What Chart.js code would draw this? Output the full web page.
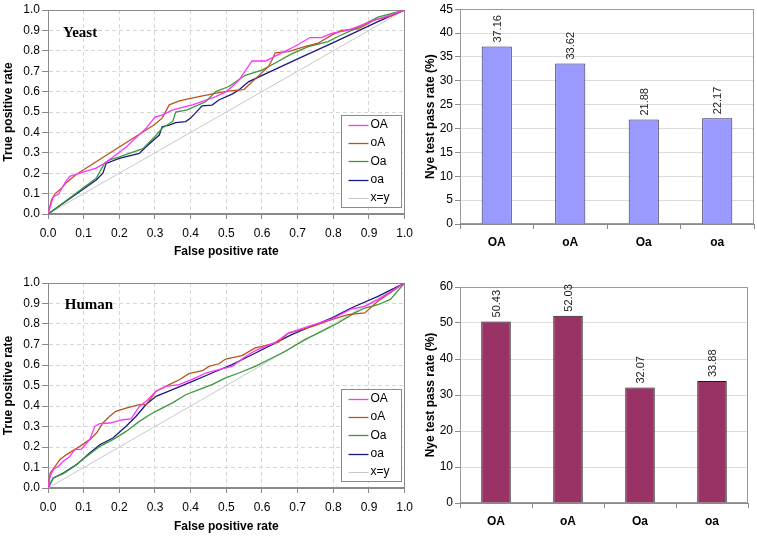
<!DOCTYPE html>
<html><head><meta charset="utf-8">
<script src="https://cdn.jsdelivr.net/npm/chart.js@4/dist/chart.umd.min.js"></script>
<style>
html,body{margin:0;padding:0;background:#fff;}
body{width:757px;height:537px;position:relative;overflow:hidden;}
.p{position:absolute;}
</style></head><body>
<div class="p" style="left:0;top:0;width:420px;height:262px"><canvas id="c1"></canvas></div>
<div class="p" style="left:0;top:270px;width:420px;height:267px"><canvas id="c2"></canvas></div>
<div class="p" style="left:380px;top:0;width:377px;height:270px"><canvas id="c3"></canvas></div>
<div class="p" style="left:380px;top:270px;width:377px;height:267px"><canvas id="c4"></canvas></div>
<script>
// ---------------- DATA ----------------
const seriesNames = ['OA', 'oA', 'Oa', 'oa'];
const diagonal = [[0, 0], [1, 1]];

// Yeast ROC curves [FPR, TPR]
const yeastOA = [[0,0],[0.015,0.085],[0.03,0.098],[0.038,0.125],[0.05,0.16],[0.061,0.185],[0.098,0.205],[0.135,0.225],[0.16,0.25],[0.22,0.33],[0.275,0.42],[0.30,0.475],[0.32,0.485],[0.35,0.51],[0.405,0.535],[0.47,0.575],[0.50,0.60],[0.535,0.655],[0.572,0.75],[0.61,0.75],[0.655,0.79],[0.69,0.82],[0.735,0.865],[0.767,0.865],[0.795,0.885],[0.84,0.90],[0.87,0.92],[0.915,0.95],[0.96,0.975],[1,1]];
const yeastoA = [[0,0],[0.01,0.07],[0.02,0.10],[0.038,0.126],[0.052,0.155],[0.08,0.195],[0.30,0.44],[0.32,0.47],[0.34,0.535],[0.368,0.555],[0.423,0.575],[0.479,0.595],[0.516,0.605],[0.549,0.61],[0.563,0.632],[0.59,0.677],[0.618,0.722],[0.632,0.768],[0.637,0.79],[0.674,0.796],[0.72,0.82],[0.757,0.837],[0.795,0.877],[0.823,0.90],[0.87,0.907],[0.915,0.95],[0.96,0.97],[1,1]];
const yeastOa = [[0,0],[0.135,0.175],[0.159,0.25],[0.173,0.265],[0.2,0.28],[0.266,0.32],[0.30,0.38],[0.32,0.42],[0.35,0.455],[0.358,0.50],[0.39,0.51],[0.442,0.55],[0.47,0.60],[0.507,0.625],[0.553,0.68],[0.60,0.705],[0.637,0.74],[0.683,0.785],[0.73,0.82],[0.785,0.845],[0.813,0.87],[0.87,0.915],[0.925,0.965],[1,1]];
const yeastoa = [[0,0],[0.135,0.167],[0.154,0.20],[0.163,0.248],[0.2,0.273],[0.256,0.297],[0.275,0.33],[0.312,0.387],[0.32,0.428],[0.34,0.436],[0.358,0.448],[0.386,0.453],[0.40,0.47],[0.432,0.53],[0.46,0.534],[0.479,0.559],[0.516,0.588],[0.535,0.608],[0.563,0.649],[0.70,0.76],[0.80,0.84],[0.925,0.943],[1,1]];

// Human ROC curves [FPR, TPR]
const humanOA = [[0,0],[0.006,0.057],[0.015,0.09],[0.029,0.106],[0.043,0.13],[0.061,0.154],[0.075,0.187],[0.094,0.19],[0.117,0.236],[0.131,0.30],[0.145,0.314],[0.173,0.317],[0.21,0.333],[0.233,0.337],[0.256,0.398],[0.275,0.423],[0.303,0.472],[0.33,0.496],[0.368,0.504],[0.414,0.537],[0.442,0.561],[0.479,0.577],[0.516,0.593],[0.553,0.64],[0.581,0.67],[0.637,0.71],[0.674,0.756],[0.73,0.789],[0.795,0.824],[0.85,0.873],[0.888,0.886],[0.925,0.919],[1,1]];
const humanoA = [[0,0],[0.006,0.073],[0.02,0.106],[0.033,0.138],[0.052,0.163],[0.089,0.203],[0.117,0.236],[0.136,0.268],[0.154,0.317],[0.173,0.35],[0.19,0.374],[0.219,0.39],[0.256,0.407],[0.275,0.407],[0.303,0.472],[0.34,0.504],[0.368,0.528],[0.395,0.558],[0.433,0.572],[0.451,0.593],[0.479,0.606],[0.498,0.629],[0.544,0.646],[0.581,0.683],[0.609,0.694],[0.646,0.711],[0.674,0.756],[0.711,0.772],[0.748,0.792],[0.795,0.821],[0.841,0.846],[0.888,0.854],[0.925,0.911],[1,1]];
const humanOa = [[0,0],[0.015,0.049],[0.043,0.07],[0.071,0.102],[0.108,0.154],[0.145,0.203],[0.182,0.236],[0.219,0.276],[0.256,0.325],[0.293,0.366],[0.312,0.382],[0.349,0.415],[0.386,0.455],[0.423,0.48],[0.46,0.504],[0.498,0.537],[0.535,0.561],[0.581,0.593],[0.628,0.634],[0.665,0.667],[0.72,0.724],[0.767,0.764],[0.813,0.805],[0.86,0.854],[0.888,0.878],[0.925,0.894],[0.96,0.92],[1,1]];
const humanoa = [[0,0],[0.015,0.049],[0.043,0.073],[0.08,0.114],[0.117,0.171],[0.145,0.211],[0.182,0.244],[0.219,0.301],[0.247,0.35],[0.275,0.407],[0.303,0.447],[0.349,0.48],[0.405,0.52],[0.46,0.561],[0.516,0.602],[0.572,0.65],[0.628,0.699],[0.683,0.748],[0.739,0.789],[0.795,0.829],[0.85,0.878],[0.925,0.935],[1,1]];

// Nye test pass rate (%)
const yeastPass = [37.16, 33.62, 21.88, 22.17];
const humanPass = [50.43, 52.03, 32.07, 33.88];

// ---------------- STYLE ----------------
const FONT = '"Liberation Sans", Arial, sans-serif';
Chart.defaults.font.family = FONT;
Chart.defaults.font.size = 12;
Chart.defaults.color = '#000';
const curveColors = ['#FF33FF', '#B9541F', '#3A9A3A', '#1A1A80'];
const diagColor = '#C8C8C8';

const frame = {
  id: 'frame',
  beforeDatasetsDraw(chart, args, opts) {
    const a = chart.chartArea, ctx = chart.ctx;
    ctx.save();
    ctx.strokeStyle = opts.color || '#888';
    ctx.lineWidth = 1;
    ctx.strokeRect(Math.round(a.left) + 0.5, Math.round(a.top) + 0.5, Math.round(a.right - a.left) - 1, Math.round(a.bottom - a.top) - 1);
    ctx.restore();
  }
};

const rocLegend = {
  id: 'rocLegend',
  afterDatasetsDraw(chart) {
    const a = chart.chartArea, ctx = chart.ctx, ds = chart.data.datasets;
    const w = 60, rowH = 18.4, h = ds.length * rowH;
    const x0 = Math.round(a.right - 4 - w) + 0.5, y0 = Math.round(a.bottom - 7 - h) + 0.5;
    ctx.save();
    ctx.fillStyle = '#fff';
    ctx.fillRect(x0, y0, w, h);
    ctx.strokeStyle = '#8a8a8a';
    ctx.lineWidth = 1;
    ctx.strokeRect(x0, y0, w, h);
    ctx.font = '12px ' + FONT;
    ctx.textBaseline = 'middle';
    ctx.textAlign = 'left';
    ds.forEach((d, i) => {
      const y = y0 + 9 + i * rowH;
      ctx.strokeStyle = d.borderColor;
      ctx.lineWidth = d.borderWidth;
      ctx.beginPath();
      ctx.moveTo(x0 + 7, Math.round(y) + 0.5);
      ctx.lineTo(x0 + 27, Math.round(y) + 0.5);
      ctx.stroke();
      ctx.fillStyle = '#000';
      ctx.fillText(d.label, x0 + 29, y);
    });
    ctx.restore();
  }
};

const panelTitle = {
  id: 'panelTitle',
  afterDraw(chart, args, opts) {
    const ctx = chart.ctx;
    const x = chart.scales.x.getPixelForValue(opts.fx);
    const y = chart.scales.y.getPixelForValue(opts.fy);
    ctx.save();
    ctx.font = 'bold 15px "Liberation Serif", "Times New Roman", serif';
    ctx.fillStyle = '#000';
    ctx.textAlign = 'left';
    ctx.textBaseline = 'middle';
    ctx.fillText(opts.text, x, y);
    ctx.restore();
  }
};

const barLabels = {
  id: 'barLabels',
  afterDatasetsDraw(chart) {
    const ctx = chart.ctx, meta = chart.getDatasetMeta(0), vals = chart.data.datasets[0].data;
    ctx.save();
    ctx.font = '11px ' + FONT;
    ctx.fillStyle = '#222';
    meta.data.forEach((bar, i) => {
      ctx.save();
      ctx.translate(bar.x + 1, bar.y - 4);
      ctx.rotate(-Math.PI / 2);
      ctx.textAlign = 'left';
      ctx.textBaseline = 'middle';
      ctx.fillText(vals[i].toFixed(2), 0, 0);
      ctx.restore();
    });
    ctx.restore();
  }
};

function toXY(arr) { return arr.map(p => ({x: p[0], y: p[1]})); }

function makeRoc(id, name, curves, pad, xH, titleXY) {
  const datasets = curves.map((c, i) => ({
    label: seriesNames[i], data: toXY(c), borderColor: curveColors[i], borderWidth: 1.3
  }));
  datasets.push({label: 'x=y', data: toXY(diagonal), borderColor: diagColor, borderWidth: 1});
  new Chart(document.getElementById(id), {
    type: 'line',
    data: {datasets},
    options: {
      responsive: true, maintainAspectRatio: false, animation: false, devicePixelRatio: 1,
      layout: {padding: pad},
      elements: {point: {radius: 0}, line: {tension: 0, fill: false}},
      plugins: {
        legend: {display: false}, tooltip: {enabled: false},
        frame: {color: '#8a8a8a'},
        panelTitle: {text: name, fx: titleXY[0], fy: titleXY[1]}
      },
      scales: {
        x: {
          type: 'linear', min: 0, max: 1,
          ticks: {stepSize: 0.1, callback: v => v.toFixed(1), padding: 7, maxRotation: 0, autoSkip: false, color: '#000'},
          grid: {color: '#D6D6D6', tickColor: '#8a8a8a', tickLength: 5, tickBorderDash: []},
          border: {display: true, color: '#8a8a8a', dash: [4, 3]},
          title: {display: true, text: 'False positive rate', font: {weight: 'bold', size: 12}, padding: {top: 0, bottom: 3}},
          afterFit(s) { s.height = xH; }
        },
        y: {
          type: 'linear', min: 0, max: 1,
          ticks: {stepSize: 0.1, callback: v => v.toFixed(1), padding: 2, color: '#000'},
          grid: {color: '#D6D6D6', tickColor: '#8a8a8a', tickLength: 6, tickBorderDash: []},
          border: {display: true, color: '#8a8a8a', dash: [4, 3]},
          title: {display: true, text: 'True positive rate', font: {weight: 'bold', size: 12}, padding: {top: 1.5, bottom: 0}},
          afterFit(s) { s.width = 48; }
        }
      }
    },
    plugins: [frame, rocLegend, panelTitle]
  });
}

function makeBar(id, values, color, edge, yMax, step, pad, xH) {
  new Chart(document.getElementById(id), {
    type: 'bar',
    data: {labels: seriesNames, datasets: [{data: values, backgroundColor: color, borderColor: edge, borderWidth: 1, borderSkipped: 'bottom', categoryPercentage: 1, barPercentage: 0.41}]},
    options: {
      responsive: true, maintainAspectRatio: false, animation: false, devicePixelRatio: 1,
      layout: {padding: pad},
      plugins: {legend: {display: false}, tooltip: {enabled: false}, frame: {color: '#9a9a9a'}},
      scales: {
        x: {
          grid: {display: true, drawOnChartArea: false, drawTicks: true, tickLength: 5, color: '#8a8a8a', offset: true},
          border: {display: true, color: '#8a8a8a'},
          ticks: {font: {weight: 'bold', size: 12}, padding: 6, color: '#000'},
          afterFit(s) { s.height = xH; }
        },
        y: {
          min: 0, max: yMax,
          ticks: {stepSize: step, padding: 2, color: '#000'},
          grid: {color: '#DCDCDC', tickColor: '#8a8a8a', tickLength: 5},
          border: {display: true, color: '#8a8a8a'},
          title: {display: true, text: 'Nye test pass rate (%)', font: {weight: 'bold', size: 12}, padding: {top: 43, bottom: 0}},
          afterFit(s) { s.width = 80; }
        }
      }
    },
    plugins: [frame, barLabels]
  });
}

makeRoc('c1', 'Yeast', [yeastOA, yeastoA, yeastOa, yeastoa], {top: 10, right: 13, left: 0, bottom: 0}, 48, [0.042, 0.887]);
makeRoc('c2', 'Human', [humanOA, humanoA, humanOa, humanoa], {top: 13, right: 13, left: 0, bottom: 0}, 49, [0.047, 0.893]);
makeBar('c3', yeastPass, '#9999FF', '#2B2B5A', 45, 5, {top: 8, right: 3, left: 0, bottom: 0}, 46);
makeBar('c4', humanPass, '#993366', '#1A1A1A', 60, 10, {top: 17, right: 9, left: 0, bottom: 0}, 34);
</script>
</body></html>
